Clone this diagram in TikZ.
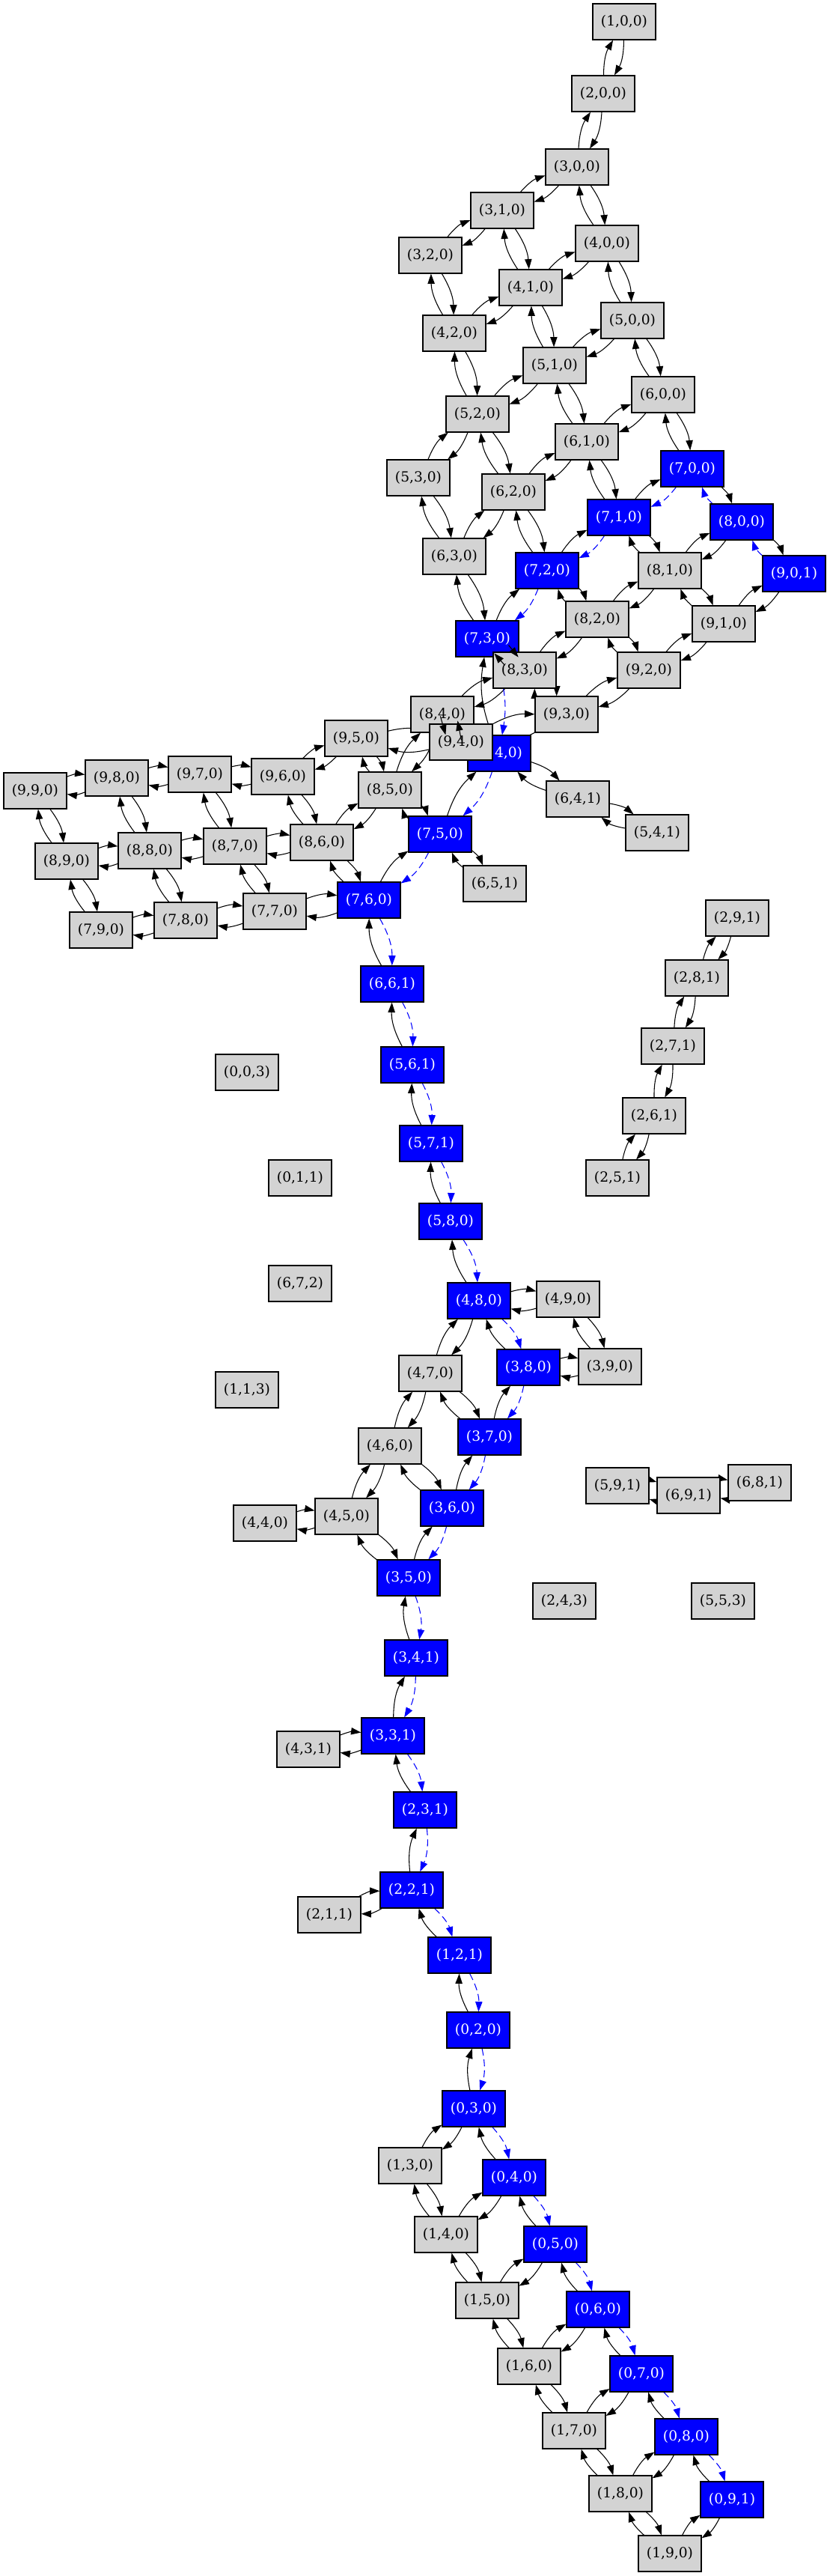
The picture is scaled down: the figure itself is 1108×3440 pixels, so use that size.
\documentclass[tikz,border=0pt]{standalone}
\usepackage{fontspec}
\setmainfont{DejaVu Serif}
\usetikzlibrary{arrows.meta,calc}
\pgfdeclarelayer{bg}
\pgfsetlayers{bg,main}
\definecolor{gvgray}{HTML}{D3D3D3}
\definecolor{gvblue}{HTML}{0000FF}
\tikzset{
 gnode/.style={draw=black, line width=0.9pt, fill=gvgray, minimum width=63pt, minimum height=36pt, inner sep=0pt, font=\fontsize{14}{16}\selectfont, text=black},
 bnode/.style={gnode, fill=gvblue, text=white},
 arr/.style={-{Triangle[length=10pt,width=7pt]}, line width=0.8pt, black},
 barr/.style={-{Triangle[length=10pt,width=7pt]}, line width=0.8pt, gvblue, dash pattern=on 7pt off 4pt},
}
\newcommand\gvpair[2]{\draw[arr] (#1) to[bend left=15] (#2); \draw[arr] (#2) to[bend left=15] (#1);}
\newcommand\gvbpair[2]{\draw[barr] (#1) to[bend left=15] (#2); \draw[arr] (#2) to[bend left=15] (#1);}
\begin{document}
\begin{tikzpicture}[x=0.75pt,y=-0.75pt]
\useasboundingbox (0,0) rectangle (1108,3440);
% nodes
\node[gnode] (n100) at (834,29) {(1,0,0)};
\node[gnode] (n200) at (806,125) {(2,0,0)};
\node[gnode] (n300) at (771,223) {(3,0,0)};
\node[gnode] (n310) at (671,281) {(3,1,0)};
\node[gnode] (n400) at (811,325) {(4,0,0)};
\node[gnode] (n320) at (575,341) {(3,2,0)};
\node[gnode] (n410) at (709,384) {(4,1,0)};
\node[gnode] (n420) at (607,445) {(4,2,0)};
\node[gnode] (n500) at (845,428) {(5,0,0)};
\node[gnode] (n510) at (741,488) {(5,1,0)};
\node[gnode] (n600) at (886,527) {(6,0,0)};
\node[gnode] (n520) at (638,553) {(5,2,0)};
\node[gnode] (n610) at (784,590) {(6,1,0)};
\node[bnode] (n700) at (925,626) {(7,0,0)};
\node[gnode] (n530) at (559,638) {(5,3,0)};
\node[gnode] (n620) at (686,657) {(6,2,0)};
\node[bnode] (n710) at (827,691) {(7,1,0)};
\node[bnode] (n800) at (991,697) {(8,0,0)};
\node[gnode] (n630) at (607,743) {(6,3,0)};
\node[bnode] (n720) at (731,762) {(7,2,0)};
\node[gnode] (n810) at (895,762) {(8,1,0)};
\node[bnode] (n901) at (1061,766) {(9,0,1)};
\node[gnode] (n820) at (798,827) {(8,2,0)};
\node[gnode] (n910) at (967,833) {(9,1,0)};
\node[bnode] (n730) at (651,853) {(7,3,0)};
\node[gnode] (n830) at (701,895) {(8,3,0)};
\node[gnode] (n920) at (867,895) {(9,2,0)};
\node[gnode] (n840) at (591,954) {(8,4,0)};
\node[gnode] (n930) at (757,954) {(9,3,0)};
\node[gnode] (n950) at (476,986) {(9,5,0)};
\node[bnode] (n740) at (667,1006) {(7,4,0)};
\node[gnode] (n940) at (616,991) {(9,4,0)};
\node[gnode] (n990) at (47,1056) {(9,9,0)};
\node[gnode] (n980) at (156,1039) {(9,8,0)};
\node[gnode] (n970) at (267,1034) {(9,7,0)};
\node[gnode] (n960) at (378,1037) {(9,6,0)};
\node[gnode] (n850) at (521,1055) {(8,5,0)};
\node[gnode] (n890) at (89,1150) {(8,9,0)};
\node[gnode] (n880) at (200,1136) {(8,8,0)};
\node[gnode] (n870) at (314,1130) {(8,7,0)};
\node[gnode] (n860) at (430,1125) {(8,6,0)};
\node[bnode] (n750) at (588,1114) {(7,5,0)};
\node[gnode] (n641) at (772,1067) {(6,4,1)};
\node[gnode] (n541) at (878,1112) {(5,4,1)};
\node[gnode] (n651) at (661,1180) {(6,5,1)};
\node[gnode] (n790) at (135,1242) {(7,9,0)};
\node[gnode] (n780) at (248,1229) {(7,8,0)};
\node[gnode] (n770) at (367,1217) {(7,7,0)};
\node[bnode] (n760) at (493,1202) {(7,6,0)};
\node[gnode] (n291) at (985,1226) {(2,9,1)};
\node[bnode] (n661) at (524,1314) {(6,6,1)};
\node[gnode] (n281) at (931,1306) {(2,8,1)};
\node[gnode] (n271) at (899,1397) {(2,7,1)};
\node[gnode] (n003) at (330,1432) {(0,0,3)};
\node[bnode] (n561) at (551,1422) {(5,6,1)};
\node[gnode] (n261) at (874,1490) {(2,6,1)};
\node[bnode] (n571) at (576,1527) {(5,7,1)};
\node[gnode] (n011) at (401,1573) {(0,1,1)};
\node[gnode] (n251) at (825,1573) {(2,5,1)};
\node[bnode] (n580) at (602,1631) {(5,8,0)};
\node[gnode] (n672) at (401,1714) {(6,7,2)};
\node[bnode] (n480) at (640,1737) {(4,8,0)};
\node[gnode] (n490) at (759,1735) {(4,9,0)};
\node[gnode] (n470) at (575,1834) {(4,7,0)};
\node[bnode] (n380) at (706,1826) {(3,8,0)};
\node[gnode] (n390) at (815,1825) {(3,9,0)};
\node[gnode] (n113) at (330,1856) {(1,1,3)};
\node[gnode] (n460) at (521,1931) {(4,6,0)};
\node[bnode] (n370) at (654,1919) {(3,7,0)};
\node[gnode] (n591) at (825,1984) {(5,9,1)};
\node[gnode] (n691) at (920,1997) {(6,9,1)};
\node[gnode] (n681) at (1015,1980) {(6,8,1)};
\node[gnode] (n440) at (354,2034) {(4,4,0)};
\node[gnode] (n450) at (463,2025) {(4,5,0)};
\node[bnode] (n360) at (604,2014) {(3,6,0)};
\node[bnode] (n350) at (546,2107) {(3,5,0)};
\node[gnode] (n243) at (754,2138) {(2,4,3)};
\node[gnode] (n553) at (966,2138) {(5,5,3)};
\node[bnode] (n341) at (556,2214) {(3,4,1)};
\node[bnode] (n331) at (525,2318) {(3,3,1)};
\node[gnode] (n431) at (412,2336) {(4,3,1)};
\node[bnode] (n231) at (568,2417) {(2,3,1)};
\node[bnode] (n221) at (550,2524) {(2,2,1)};
\node[gnode] (n211) at (440,2557) {(2,1,1)};
\node[bnode] (n121) at (614,2611) {(1,2,1)};
\node[bnode] (n020) at (639,2711) {(0,2,0)};
\node[bnode] (n030) at (633,2816) {(0,3,0)};
\node[gnode] (n130) at (548,2892) {(1,3,0)};
\node[bnode] (n040) at (687,2908) {(0,4,0)};
\node[gnode] (n140) at (596,2984) {(1,4,0)};
\node[bnode] (n050) at (742,2997) {(0,5,0)};
\node[gnode] (n150) at (651,3072) {(1,5,0)};
\node[bnode] (n060) at (799,3084) {(0,6,0)};
\node[gnode] (n160) at (707,3160) {(1,6,0)};
\node[bnode] (n070) at (857,3170) {(0,7,0)};
\node[gnode] (n170) at (767,3246) {(1,7,0)};
\node[bnode] (n080) at (917,3254) {(0,8,0)};
\node[gnode] (n180) at (829,3330) {(1,8,0)};
\node[bnode] (n091) at (978,3338) {(0,9,1)};
\node[gnode] (n190) at (895,3410) {(1,9,0)};
% edges
\begin{pgfonlayer}{bg}
\gvpair{n100}{n200}
\gvpair{n200}{n300}
\gvpair{n300}{n310}
\gvpair{n300}{n400}
\gvpair{n310}{n320}
\gvpair{n310}{n410}
\gvpair{n400}{n410}
\gvpair{n400}{n500}
\gvpair{n320}{n420}
\gvpair{n410}{n420}
\gvpair{n410}{n510}
\gvpair{n500}{n510}
\gvpair{n500}{n600}
\gvpair{n420}{n520}
\gvpair{n510}{n520}
\gvpair{n510}{n610}
\gvpair{n600}{n610}
\gvpair{n600}{n700}
\gvpair{n520}{n530}
\gvpair{n520}{n620}
\gvpair{n610}{n620}
\gvpair{n610}{n710}
\gvpair{n530}{n630}
\gvpair{n620}{n630}
\gvpair{n620}{n720}
\gvpair{n710}{n810}
\gvpair{n800}{n810}
\gvpair{n630}{n730}
\gvpair{n720}{n820}
\gvpair{n810}{n820}
\gvpair{n810}{n910}
\gvpair{n901}{n910}
\gvpair{n820}{n830}
\gvpair{n820}{n920}
\gvpair{n910}{n920}
\gvpair{n830}{n840}
\gvpair{n830}{n930}
\gvpair{n920}{n930}
\gvpair{n940}{n930}
\gvpair{n940}{n950}
\gvpair{n840}{n850}
\gvpair{n950}{n850}
\gvpair{n950}{n960}
\gvpair{n960}{n970}
\gvpair{n970}{n980}
\gvpair{n980}{n990}
\gvpair{n990}{n890}
\gvpair{n980}{n880}
\gvpair{n970}{n870}
\gvpair{n960}{n860}
\gvpair{n850}{n860}
\gvpair{n890}{n880}
\gvpair{n880}{n870}
\gvpair{n870}{n860}
\gvpair{n860}{n760}
\gvpair{n890}{n790}
\gvpair{n880}{n780}
\gvpair{n870}{n770}
\gvpair{n790}{n780}
\gvpair{n780}{n770}
\gvpair{n770}{n760}
\gvpair{n750}{n850}
\gvpair{n750}{n651}
\gvpair{n740}{n641}
\gvpair{n641}{n541}
\gvpair{n291}{n281}
\gvpair{n281}{n271}
\gvpair{n271}{n261}
\gvpair{n261}{n251}
\gvpair{n480}{n490}
\gvpair{n480}{n470}
\gvpair{n490}{n390}
\gvpair{n380}{n390}
\gvpair{n470}{n460}
\gvpair{n470}{n370}
\gvpair{n460}{n450}
\gvpair{n460}{n360}
\gvpair{n591}{n691}
\gvpair{n691}{n681}
\gvpair{n440}{n450}
\gvpair{n450}{n350}
\gvpair{n431}{n331}
\gvpair{n211}{n221}
\gvpair{n030}{n130}
\gvpair{n130}{n140}
\gvpair{n040}{n140}
\gvpair{n140}{n150}
\gvpair{n050}{n150}
\gvpair{n150}{n160}
\gvpair{n060}{n160}
\gvpair{n160}{n170}
\gvpair{n070}{n170}
\gvpair{n170}{n180}
\gvpair{n080}{n180}
\gvpair{n180}{n190}
\gvpair{n091}{n190}
% highlighted path
\gvbpair{n901}{n800}
\gvbpair{n800}{n700}
\gvbpair{n700}{n710}
\gvbpair{n710}{n720}
\gvbpair{n720}{n730}
\gvbpair{n730}{n740}
\gvbpair{n740}{n750}
\gvbpair{n750}{n760}
\gvbpair{n760}{n661}
\gvbpair{n661}{n561}
\gvbpair{n561}{n571}
\gvbpair{n571}{n580}
\gvbpair{n580}{n480}
\gvbpair{n480}{n380}
\gvbpair{n380}{n370}
\gvbpair{n370}{n360}
\gvbpair{n360}{n350}
\gvbpair{n350}{n341}
\gvbpair{n341}{n331}
\gvbpair{n331}{n231}
\gvbpair{n231}{n221}
\gvbpair{n221}{n121}
\gvbpair{n121}{n020}
\gvbpair{n020}{n030}
\gvbpair{n030}{n040}
\gvbpair{n040}{n050}
\gvbpair{n050}{n060}
\gvbpair{n060}{n070}
\gvbpair{n070}{n080}
\gvbpair{n080}{n091}
\end{pgfonlayer}
% edges between overlapping boxes
\draw[arr] ($(n830.north west)+(16,18)$) -- ($(n830.north west)+(2,2)$);
\draw[arr] ($(n730.south east)+(-14,-16)$) -- ($(n730.south east)+(-1,0)$);
\draw[arr] ($(n940.north west)+(15,-10)$) -- ($(n940.north west)+(22,15)$);
\draw[arr] ($(n940.north west)+(43,22)$) -- ($(n940.north west)+(38,-4)$);
\end{tikzpicture}
\end{document}
